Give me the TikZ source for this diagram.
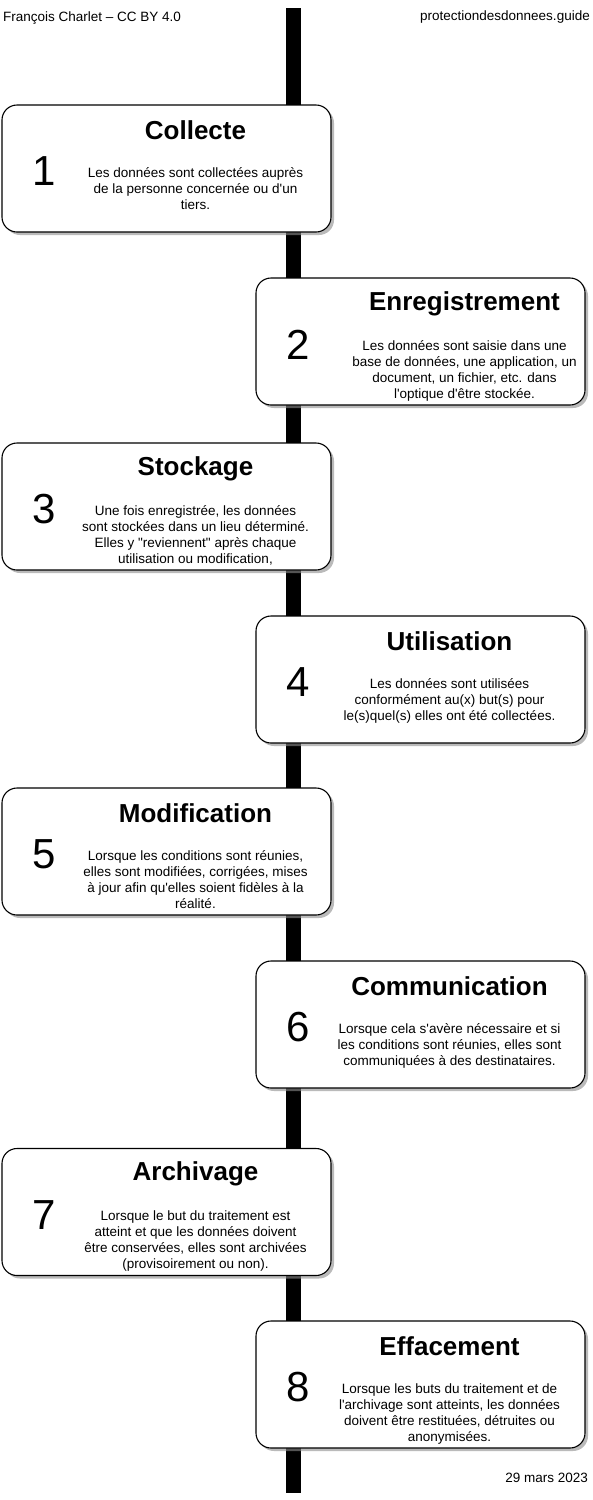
\documentclass[tikz,border=0pt]{standalone}
\usepackage{fontspec}
\newfontfamily\helv{Liberation Sans}
\usetikzlibrary{shadows}

\begin{document}
\begin{tikzpicture}[x=1pt,y=-1pt,
  etape/.style={draw,line width=1.1pt,rounded corners=15pt,fill=white,
    minimum width=329pt,minimum height=127pt,inner sep=0pt,
    drop shadow={shadow xshift=3pt,shadow yshift=-3pt,fill=black!45,opacity=0.6}},
  titre/.style={font=\helv\bfseries\fontsize{26}{30}\selectfont,inner sep=0pt},
  numero/.style={font=\helv\fontsize{42}{46}\selectfont,inner sep=0pt},
  texte/.style={font=\helv\fontsize{13.5}{16}\selectfont,align=center,inner sep=0pt,anchor=north},
  meta/.style={font=\helv\fontsize{13.5}{16}\selectfont,inner sep=0pt},
]
  \useasboundingbox (0,0) rectangle (593,1500);

  % ligne du temps
  \coordinate (haut) at (293,8);
  \coordinate (bas) at (293,1493);
  \draw[line width=15pt] (haut) -- (bas);

  \node[meta,anchor=west] (auteur) at (3,18) {François Charlet – CC BY 4.0};
  \node[meta,anchor=east] (site) at (590,17) {protectiondesdonnees.guide};
  \node[meta,anchor=east] (date) at (588,1478) {29 mars 2023};

  % 1
  \node[etape] (collecte) at (166.5,168.5) {};
  \node[titre] (collecte-titre) at ([xshift=29pt,yshift=-26pt]collecte.north) {Collecte};
  \node[numero] (collecte-num) at ([xshift=43pt,yshift=-67pt]collecte.north west) {1};
  \node[texte] (collecte-txt) at ([xshift=29pt,yshift=-63pt]collecte.north)
    {Les données sont collectées auprès\\de la personne concernée ou d'un\\tiers.};

  % 2
  \node[etape] (enreg) at (420.5,341.5) {};
  \node[titre] (enreg-titre) at ([xshift=44pt,yshift=-26pt]enreg.north) {Enregistrement};
  \node[numero] (enreg-num) at ([xshift=43pt,yshift=-67pt]enreg.north west) {2};
  \node[texte] (enreg-txt) at ([xshift=44pt,yshift=-63pt]enreg.north)
    {Les données sont saisie dans une\\base de données, une application, un\\document, un fichier, etc. dans\\l'optique d'être stockée.};

  % 3
  \node[etape] (stockage) at (166.5,506.5) {};
  \node[titre] (stockage-titre) at ([xshift=29pt,yshift=-26pt]stockage.north) {Stockage};
  \node[numero] (stockage-num) at ([xshift=43pt,yshift=-67pt]stockage.north west) {3};
  \node[texte] (stockage-txt) at ([xshift=29pt,yshift=-63pt]stockage.north)
    {Une fois enregistrée, les données\\sont stockées dans un lieu déterminé.\\Elles y "reviennent" après chaque\\utilisation ou modification,};

  % 4
  \node[etape] (utilisation) at (420.5,679.5) {};
  \node[titre] (utilisation-titre) at ([xshift=29pt,yshift=-26pt]utilisation.north) {Utilisation};
  \node[numero] (utilisation-num) at ([xshift=43pt,yshift=-67pt]utilisation.north west) {4};
  \node[texte] (utilisation-txt) at ([xshift=29pt,yshift=-63pt]utilisation.north)
    {Les données sont utilisées\\conformément au(x) but(s) pour\\le(s)quel(s) elles ont été collectées.};

  % 5
  \node[etape] (modification) at (166.5,851.5) {};
  \node[titre] (modification-titre) at ([xshift=29pt,yshift=-26pt]modification.north) {Modification};
  \node[numero] (modification-num) at ([xshift=43pt,yshift=-67pt]modification.north west) {5};
  \node[texte] (modification-txt) at ([xshift=29pt,yshift=-63pt]modification.north)
    {Lorsque les conditions sont réunies,\\elles sont modifiées, corrigées, mises\\à jour afin qu'elles soient fidèles à la\\réalité.};

  % 6
  \node[etape] (communication) at (420.5,1024.5) {};
  \node[titre] (communication-titre) at ([xshift=29pt,yshift=-26pt]communication.north) {Communication};
  \node[numero] (communication-num) at ([xshift=43pt,yshift=-67pt]communication.north west) {6};
  \node[texte] (communication-txt) at ([xshift=29pt,yshift=-63pt]communication.north)
    {Lorsque cela s'avère nécessaire et si\\les conditions sont réunies, elles sont\\communiquées à des destinataires.};

  % 7
  \node[etape] (archivage) at (166.5,1212) {};
  \node[titre] (archivage-titre) at ([xshift=29pt,yshift=-26pt]archivage.north) {Archivage};
  \node[numero] (archivage-num) at ([xshift=43pt,yshift=-67pt]archivage.north west) {7};
  \node[texte] (archivage-txt) at ([xshift=29pt,yshift=-63pt]archivage.north)
    {Lorsque le but du traitement est\\atteint et que les données doivent\\être conservées, elles sont archivées\\(provisoirement ou non).};

  % 8
  \node[etape] (effacement) at (420.5,1384.5) {};
  \node[titre] (effacement-titre) at ([xshift=29pt,yshift=-26pt]effacement.north) {Effacement};
  \node[numero] (effacement-num) at ([xshift=43pt,yshift=-67pt]effacement.north west) {8};
  \node[texte] (effacement-txt) at ([xshift=29pt,yshift=-63pt]effacement.north)
    {Lorsque les buts du traitement et de\\l'archivage sont atteints, les données\\doivent être restituées, détruites ou\\anonymisées.};
\end{tikzpicture}
\end{document}
